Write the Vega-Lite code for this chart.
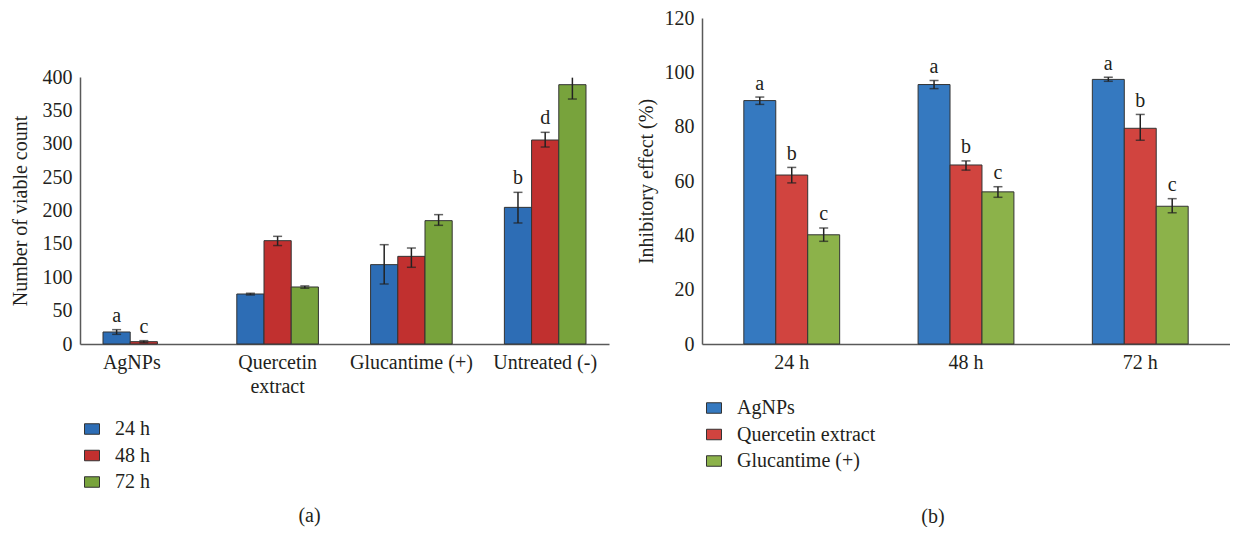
{
  "$schema": "https://vega.github.io/schema/vega-lite/v6.json",
  "padding": {"left": 10, "top": 8, "right": 0, "bottom": 0},
  "background": "white",
  "spacing": 27,
  "config": {
    "font": "Liberation Serif",
    "view": {"stroke": null},
    "axis": {
      "labelFont": "Liberation Serif", "titleFont": "Liberation Serif",
      "labelFontSize": 20, "titleFontSize": 20, "titleFontWeight": "normal",
      "labelColor": "#231f20", "titleColor": "#231f20",
      "domainColor": "#595959", "domainWidth": 1.5, "ticks": false, "grid": false
    },
    "legend": {
      "labelFont": "Liberation Serif", "labelFontSize": 20, "labelColor": "#231f20",
      "symbolType": "M-1,-0.7L1,-0.7L1,0.7L-1,0.7Z", "symbolSize": 225,
      "symbolStrokeColor": "#333333", "symbolStrokeWidth": 1, "rowPadding": 6.5, "labelOffset": 13
    },
    "title": {"font": "Liberation Serif", "fontSize": 20, "fontWeight": "normal", "color": "#231f20"}
  },
  "hconcat": [
    {
      "width": 529,
      "height": 326,
      "title": {"text": "(a)", "orient": "bottom", "frame": "bounds", "anchor": "middle", "offset": 14},
      "data": {"values": [
        {"group": "AgNPs", "time": "24 h", "mean": 18, "lo": 14.5, "hi": 21.5, "letter": "a"},
        {"group": "AgNPs", "time": "48 h", "mean": 3.5, "lo": 2, "hi": 5, "letter": "c"},
        {"group": "Quercetin extract", "time": "24 h", "mean": 74.9, "lo": 73.5, "hi": 76},
        {"group": "Quercetin extract", "time": "48 h", "mean": 154.8, "lo": 147.5, "hi": 161.3},
        {"group": "Quercetin extract", "time": "72 h", "mean": 85.4, "lo": 83.5, "hi": 87},
        {"group": "Glucantime (+)", "time": "24 h", "mean": 118.9, "lo": 89.9, "hi": 148.8},
        {"group": "Glucantime (+)", "time": "48 h", "mean": 131.3, "lo": 114.9, "hi": 143.8},
        {"group": "Glucantime (+)", "time": "72 h", "mean": 184.8, "lo": 177.8, "hi": 193.8},
        {"group": "Untreated (-)", "time": "24 h", "mean": 204.7, "lo": 181.3, "hi": 227.2, "letter": "b"},
        {"group": "Untreated (-)", "time": "48 h", "mean": 305.6, "lo": 295.1, "hi": 317.1, "letter": "d"},
        {"group": "Untreated (-)", "time": "72 h", "mean": 388.5, "lo": 367, "hi": 399}
      ]},
      "encoding": {
        "x": {
          "field": "group", "type": "nominal",
          "scale": {"type": "band", "domain": ["AgNPs", "Quercetin extract", "Glucantime (+)", "Untreated (-)"], "paddingInner": 0.39, "paddingOuter": 0.172},
          "axis": {
            "title": null, "labelAngle": 0, "labelPadding": 8, "labelLineHeight": 24,
            "labelExpr": "datum.value == 'Quercetin extract' ? ['Quercetin', 'extract'] : datum.value",
            "labelOffset": {"condition": {"test": "datum.value == 'AgNPs'", "value": -12}, "value": 0}
          }
        },
        "xOffset": {"field": "time", "type": "nominal", "scale": {"type": "band", "domain": ["24 h", "48 h", "72 h"], "paddingInner": 0, "paddingOuter": 0}}
      },
      "layer": [
        {
          "mark": {"type": "bar", "stroke": "#333333", "strokeWidth": 1},
          "encoding": {
            "y": {
              "field": "mean", "type": "quantitative",
              "scale": {"domain": [0, 400], "range": [326, 59], "nice": false},
              "axis": {"title": "Number of viable count", "values": [0, 50, 100, 150, 200, 250, 300, 350, 400], "labelPadding": 8, "titlePadding": 12}
            },
            "color": {
              "field": "time", "type": "nominal",
              "scale": {"domain": ["24 h", "48 h", "72 h"], "range": ["#2D6DB5", "#C1302F", "#78A33C"]},
              "legend": {"title": null, "orient": "none", "legendX": 2, "legendY": 401}
            }
          }
        },
        {
          "mark": {"type": "rule", "color": "#222222", "strokeWidth": 1.5},
          "encoding": {"y": {"field": "lo", "type": "quantitative"}, "y2": {"field": "hi"}}
        },
        {
          "mark": {"type": "tick", "color": "#222222", "thickness": 1.5, "size": 9},
          "encoding": {"y": {"field": "lo", "type": "quantitative"}}
        },
        {
          "transform": [{"filter": "datum.hi < 399"}],
          "mark": {"type": "tick", "color": "#222222", "thickness": 1.5, "size": 9},
          "encoding": {"y": {"field": "hi", "type": "quantitative"}}
        },
        {
          "transform": [{"filter": "datum.letter != null"}],
          "mark": {"type": "text", "fontSize": 20, "baseline": "middle", "dy": -14, "color": "#231f20"},
          "encoding": {"y": {"field": "hi", "type": "quantitative"}, "text": {"field": "letter"}}
        }
      ]
    },
    {
      "width": 528,
      "height": 326,
      "title": {"text": "(b)", "orient": "bottom", "frame": "bounds", "anchor": "middle", "offset": 36},
      "data": {"values": [
        {"time": "24 h", "treat": "AgNPs", "mean": 89.6, "lo": 88.2, "hi": 90.9, "letter": "a"},
        {"time": "24 h", "treat": "Quercetin extract", "mean": 62.2, "lo": 59.3, "hi": 65.0, "letter": "b"},
        {"time": "24 h", "treat": "Glucantime (+)", "mean": 40.2, "lo": 37.8, "hi": 42.7, "letter": "c"},
        {"time": "48 h", "treat": "AgNPs", "mean": 95.5, "lo": 94.0, "hi": 97.0, "letter": "a"},
        {"time": "48 h", "treat": "Quercetin extract", "mean": 65.9, "lo": 64.0, "hi": 67.4, "letter": "b"},
        {"time": "48 h", "treat": "Glucantime (+)", "mean": 56.0, "lo": 54.0, "hi": 57.9, "letter": "c"},
        {"time": "72 h", "treat": "AgNPs", "mean": 97.4, "lo": 96.7, "hi": 98.2, "letter": "a"},
        {"time": "72 h", "treat": "Quercetin extract", "mean": 79.4, "lo": 75.0, "hi": 84.5, "letter": "b"},
        {"time": "72 h", "treat": "Glucantime (+)", "mean": 50.7, "lo": 48.3, "hi": 53.5, "letter": "c"}
      ]},
      "encoding": {
        "x": {
          "field": "time", "type": "nominal",
          "scale": {"type": "band", "domain": ["24 h", "48 h", "72 h"], "paddingInner": 0.45, "paddingOuter": 0.24},
          "axis": {"title": null, "labelAngle": 0, "labelPadding": 8}
        },
        "xOffset": {"field": "treat", "type": "nominal", "scale": {"type": "band", "domain": ["AgNPs", "Quercetin extract", "Glucantime (+)"], "paddingInner": 0, "paddingOuter": 0}}
      },
      "layer": [
        {
          "mark": {"type": "bar", "stroke": "#333333", "strokeWidth": 1},
          "encoding": {
            "y": {
              "field": "mean", "type": "quantitative",
              "scale": {"domain": [0, 120], "nice": false},
              "axis": {"title": "Inhibitory effect (%)", "values": [0, 20, 40, 60, 80, 100, 120], "labelPadding": 8, "titlePadding": 8}
            },
            "color": {
              "field": "treat", "type": "nominal",
              "scale": {"domain": ["AgNPs", "Quercetin extract", "Glucantime (+)"], "range": ["#3579C0", "#D1443F", "#8CB24A"]},
              "legend": {"title": null, "orient": "none", "legendX": 2, "legendY": 380}
            }
          }
        },
        {
          "mark": {"type": "rule", "color": "#222222", "strokeWidth": 1.5},
          "encoding": {"y": {"field": "lo", "type": "quantitative"}, "y2": {"field": "hi"}}
        },
        {
          "mark": {"type": "tick", "color": "#222222", "thickness": 1.5, "size": 9},
          "encoding": {"y": {"field": "lo", "type": "quantitative"}}
        },
        {
          "mark": {"type": "tick", "color": "#222222", "thickness": 1.5, "size": 9},
          "encoding": {"y": {"field": "hi", "type": "quantitative"}}
        },
        {
          "mark": {"type": "text", "fontSize": 20, "baseline": "middle", "dy": -13.5, "color": "#231f20"},
          "encoding": {"y": {"field": "hi", "type": "quantitative"}, "text": {"field": "letter"}}
        }
      ]
    }
  ],
  "resolve": {"scale": {"color": "independent", "x": "independent", "xOffset": "independent", "y": "independent"}}
}
